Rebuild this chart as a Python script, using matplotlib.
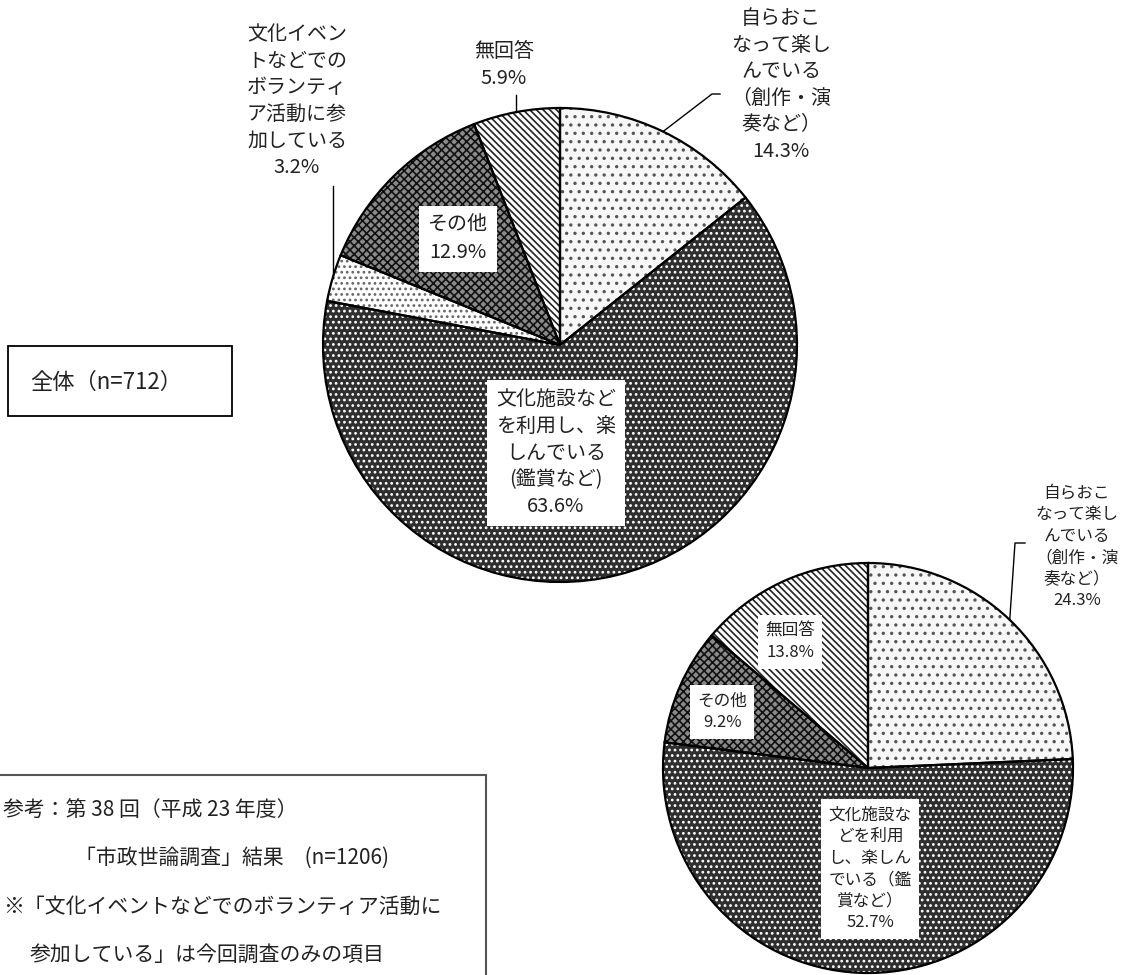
import numpy as np
import matplotlib
matplotlib.use('Agg')
import matplotlib.pyplot as plt
from matplotlib.patches import Rectangle

plt.rcParams['font.family'] = ['Noto Sans CJK JP', 'DejaVu Sans']
plt.rcParams['hatch.linewidth'] = 1.2

W, H = 1126, 975

# 今回調査 全体（n=712）
cats_now = ['自ら', '文化施設', 'ボランティア', 'その他', '無回答']
vals_now = [14.3, 63.6, 3.2, 12.9, 5.9]
text_now = ['自らおこ\nなって楽し\nんでいる\n（創作・演\n奏など）',
            '文化施設など\nを利用し、楽\nしんでいる\n(鑑賞など)',
            '文化イベン\nトなどでの\nボランティ\nア活動に参\n加している',
            'その他',
            '無回答']

# 第38回（平成23年度）市政世論調査（n=1206）
cats_prev = ['自ら', '文化施設', 'その他', '無回答']
vals_prev = [24.3, 52.7, 9.2, 13.8]
text_prev = ['自らおこ\nなって楽し\nんでいる\n（創作・演\n奏など）',
             '文化施設な\nどを利用\nし、楽しん\nでいる（鑑\n賞など）',
             'その他',
             '無回答']

# 塗り: (地の色, ハッチの色, ハッチ)
style = {
    '自ら': ('#f7f7f7', '#555555', '..'),
    '文化施設': ('#2f2f2f', '#ffffff', '...'),
    'ボランティア': ('#ffffff', '#666666', '...'),
    'その他': ('#8a8a8a', '#111111', 'xxxx'),
    '無回答': ('#ffffff', '#222222', '\\\\\\\\\\'),
}


def draw_pie(ax, vals, cats, center, radius):
    wedges, _ = ax.pie(vals, center=center, radius=radius, startangle=-90,
                       counterclock=True, wedgeprops=dict(linewidth=0))
    for w, c in zip(wedges, cats):
        fc, hc, hatch = style[c]
        w.set_facecolor(fc)
        w.set_edgecolor(hc)
        w.set_hatch(hatch)
    ax.pie(vals, center=center, radius=radius, startangle=-90,
           counterclock=True,
           wedgeprops=dict(fill=False, edgecolor='black', linewidth=1.6))
    return wedges


def edge_point(w):
    t = np.deg2rad((w.theta1 + w.theta2) / 2)
    cx, cy = w.center
    return cx + w.r * np.cos(t), cy + w.r * np.sin(t)


def leader(ax, w, pts):
    x0, y0 = edge_point(w)
    xs = [x0] + [p[0] for p in pts]
    ys = [y0] + [p[1] for p in pts]
    ax.plot(xs, ys, color='black', lw=1.0)


def label(ax, x, y, s, size, boxed=True, ls=1.35):
    kw = dict(ha='center', va='center', fontsize=size, linespacing=ls,
              color='#222222')
    if boxed:
        kw['bbox'] = dict(boxstyle='square,pad=0.45', fc='white', ec='none')
    ax.text(x, y, s, **kw)


fig = plt.figure(figsize=(W / 100, H / 100), dpi=100)
ax = fig.add_axes([0, 0, 1, 1])

big = draw_pie(ax, vals_now, cats_now, (560, 345), 237)
small = draw_pie(ax, vals_prev, cats_prev, (868, 768), 205)

ax.set_xlim(0, W)
ax.set_ylim(H, 0)
ax.set_aspect('auto')
ax.axis('off')

# 全体
pct = ['%.1f%%' % v for v in vals_now]
label(ax, 781, 85, text_now[0] + '\n' + pct[0], 14.4, boxed=False)
leader(ax, big[0], [(712, 94), (720, 94)])
label(ax, 556, 453, text_now[1] + '\n' + pct[1], 14.4)
label(ax, 297, 101, text_now[2] + '\n' + pct[2], 14.4, boxed=False)
x2, _ = edge_point(big[2])
leader(ax, big[2], [(x2, 186)])
label(ax, 458, 239, text_now[3] + '\n' + pct[3], 14.4)
label(ax, 504, 65, text_now[4] + '\n' + pct[4], 14.4, boxed=False)
x4, _ = edge_point(big[4])
leader(ax, big[4], [(x4, 95)])

# 参考（前回）
pct = ['%.1f%%' % v for v in vals_prev]
label(ax, 1077, 547, text_prev[0] + '\n' + pct[0], 12, boxed=False)
leader(ax, small[0], [(1015, 543), (1025, 543)])
label(ax, 870, 869, text_prev[1] + '\n' + pct[1], 12)
label(ax, 722, 712, text_prev[2] + '\n' + pct[2], 12)
label(ax, 790, 642, text_prev[3] + '\n' + pct[3], 12)

# 全体（n=712）の枠
ax.add_patch(Rectangle((8, 346), 224, 70, fill=False, ec='black', lw=1.3))
ax.text(30, 382, '全体（n=712）', ha='left', va='center', fontsize=16,
        color='#222222')

# 参考の枠
ax.add_patch(Rectangle((-5, 775), 491, 215, fill=False, ec='#555555', lw=1.5))
note = [(3, 810, '参考：第 38 回（平成 23 年度）'),
        (75, 858, '「市政世論調査」結果　(n=1206)'),
        (3, 907, '※「文化イベントなどでのボランティア活動に'),
        (30, 955, '参加している」は今回調査のみの項目')]
for x, y, s in note:
    ax.text(x, y, s, ha='left', va='center', fontsize=15, color='#222222')

fig.savefig('out.png', dpi=100, facecolor='white')
